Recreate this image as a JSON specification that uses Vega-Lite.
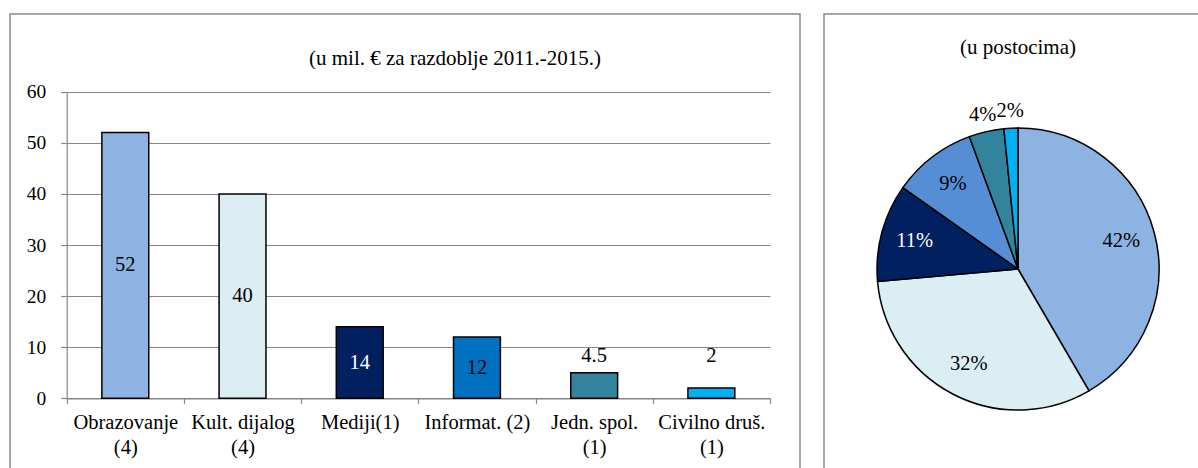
{
  "$schema": "https://vega.github.io/schema/vega-lite/v6.json",
  "padding": {"left": 9, "top": 13, "right": 0, "bottom": 0},
  "spacing": 22,
  "config": {
    "font": "Liberation Serif",
    "view": {"stroke": "#898989", "strokeWidth": 1.5},
    "title": {"font": "Liberation Serif", "fontSize": 21, "fontWeight": "normal", "color": "#000000", "anchor": "middle", "baseline": "alphabetic", "frame": "group"},
    "axis": {"labelFont": "Liberation Serif", "labelColor": "#000000", "domainColor": "#868686", "tickColor": "#868686", "gridColor": "#868686", "domainWidth": 1.2, "tickWidth": 1.2, "gridWidth": 1.2},
    "text": {"font": "Liberation Serif"}
  },
  "datasets": {
    "d": [
      {"cat": "Obrazovanje|(4)", "value": 52, "lbl": "52", "pct": "42%"},
      {"cat": "Kult. dijalog|(4)", "value": 40, "lbl": "40", "pct": "32%"},
      {"cat": "Mediji(1)", "value": 14, "lbl": "14", "pct": "11%"},
      {"cat": "Informat. (2)", "value": 12, "lbl": "12", "pct": "9%"},
      {"cat": "Jedn. spol.|(1)", "value": 5, "lbl": "4.5", "pct": "4%"},
      {"cat": "Civilno druš.|(1)", "value": 2, "lbl": "2", "pct": "2%"}
    ]
  },
  "resolve": {"scale": {"color": "independent"}},
  "hconcat": [
    {
      "width": 790,
      "height": 455,
      "data": {"name": "d"},
      "title": {"text": "(u mil. € za razdoblje 2011.-2015.)", "dx": 50, "offset": -55},
      "resolve": {"scale": {"y": "independent"}},
      "encoding": {
        "x": {"field": "cat", "type": "nominal", "sort": null,
          "scale": {"range": [56.7, 760], "paddingInner": 0, "paddingOuter": 0},
          "axis": {"title": null, "tickBand": "extent", "offset": -70.7, "labelAngle": 0, "labelFontSize": 20.5, "labelLineHeight": 25, "labelPadding": 9, "tickSize": 5, "labelOverlap": false, "labelExpr": "isValid(datum.value) ? split(datum.value, '|') : ''"}}
      },
      "layer": [
        {
          "mark": {"type": "bar", "width": {"band": 0.4}, "stroke": "#000000", "strokeWidth": 1.5},
          "encoding": {
            "y": {"field": "value", "type": "quantitative",
              "scale": {"domain": [0, 60], "range": [384.3, 77.7], "nice": false, "zero": true},
              "axis": {"title": null, "offset": -56.7, "values": [0, 10, 20, 30, 40, 50, 60], "grid": true, "tickSize": 6, "labelPadding": 15, "labelFontSize": 19.5}},
            "color": {"field": "cat", "type": "nominal", "sort": null, "legend": null,
              "scale": {"range": ["#8DB3E2", "#DBEEF4", "#002060", "#0070C0", "#31849B", "#00B0F0"]}}
          }
        },
        {
          "mark": {"type": "text", "fontSize": 20.5, "baseline": "middle"},
          "encoding": {
            "y": {"field": "value", "type": "quantitative", "axis": null,
              "scale": {"domain": [0, 120], "range": [384.3, 77.7], "nice": false}},
            "text": {"condition": {"test": "datum.value >= 10", "field": "lbl"}, "value": ""},
            "color": {"condition": {"test": "datum.cat == 'Mediji(1)'", "value": "#FFFFFF"}, "value": "#000000"}
          }
        },
        {
          "mark": {"type": "text", "fontSize": 20.5, "baseline": "middle", "color": "#000000"},
          "encoding": {
            "y": {"datum": 8.3, "type": "quantitative", "axis": null,
              "scale": {"domain": [0, 60], "range": [384.3, 77.7], "nice": false}},
            "text": {"condition": {"test": "datum.value < 10", "field": "lbl"}, "value": ""}
          }
        }
      ]
    },
    {
      "width": 376,
      "height": 455,
      "view": {"stroke": "#898989", "strokeWidth": 1.5},
      "data": {"name": "d"},
      "title": {"text": "(u postocima)", "dx": 6, "offset": -44},
      "encoding": {
        "theta": {"field": "value", "type": "quantitative", "stack": true},
        "order": {"field": "value", "sort": "descending"}
      },
      "layer": [
        {
          "mark": {"type": "arc", "outerRadius": 141, "stroke": "#000000", "strokeWidth": 1.5, "x": 194, "y": 255},
          "encoding": {
            "color": {"field": "cat", "type": "nominal", "sort": null, "legend": null,
              "scale": {"range": ["#8DB3E2", "#DBEEF4", "#002060", "#558ED5", "#31849B", "#00B0F0"]}}
          }
        },
        {
          "mark": {"type": "text", "radius": 107, "fontSize": 20.5, "baseline": "middle", "x": 194, "y": 255},
          "encoding": {
            "text": {"condition": {"test": "datum.value >= 10", "field": "pct"}, "value": ""},
            "color": {"condition": {"test": "datum.pct == '11%'", "value": "#FFFFFF"}, "value": "#000000"}
          }
        },
        {
          "mark": {"type": "text", "radius": 158, "fontSize": 20.5, "baseline": "middle", "color": "#000000", "x": 194, "y": 255},
          "encoding": {
            "text": {"condition": {"test": "datum.value < 10", "field": "pct"}, "value": ""}
          }
        }
      ]
    }
  ]
}
